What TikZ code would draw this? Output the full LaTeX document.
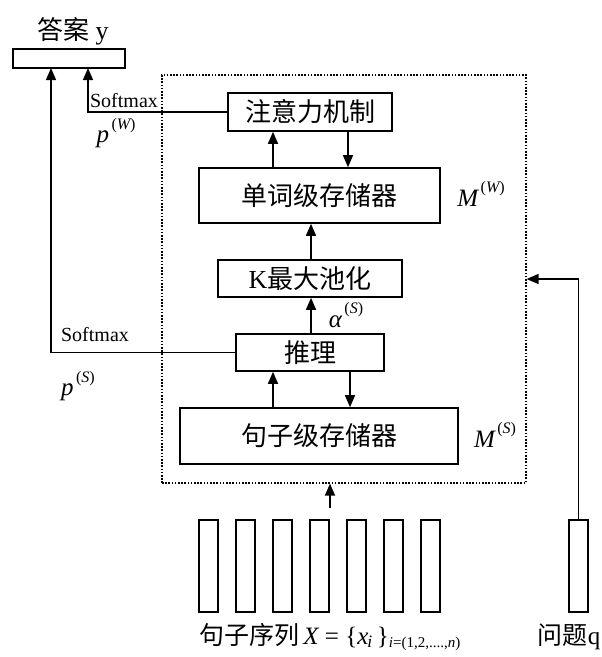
\documentclass[tikz,border=0pt]{standalone}
\usepackage{fontspec}
\setmainfont{Liberation Serif}
\newfontfamily\cjk{Noto Sans CJK SC}
\usetikzlibrary{arrows.meta}
\begin{document}
\begin{tikzpicture}[x=1pt,y=-1pt,
  box/.style={draw,line width=1.6pt,inner sep=0pt,fill=white},
  bar/.style={draw,line width=1.4pt,minimum width=19pt,minimum height=92pt,inner sep=0pt},
  conn/.style={line width=1.3pt},
  arr/.style={conn,-{Triangle[length=12pt,width=10pt]}},
  cn/.style={font=\cjk\fontsize{26}{26}\selectfont},
  lbl/.style={inner sep=0pt,font=\fontsize{25}{25}\selectfont},
  sm/.style={inner sep=0pt,font=\fontsize{20}{20}\selectfont}]
\useasboundingbox (0,0) rectangle (602,657);
\newcommand{\supx}[1]{\kern2.5pt\raisebox{1.15ex}{\fontsize{16}{16}\selectfont(\itshape #1\upshape)}}
% dotted frame
\node[draw,line width=1.2pt,dash pattern=on 1.6pt off 1.6pt,minimum width=364pt,minimum height=408pt,inner sep=0pt] (dbox) at (344,279) {};
% answer
\node[box,minimum width=112pt,minimum height=19pt] (ans) at (69,58.5) {};
\node[inner sep=0pt,font=\fontsize{26}{26}\selectfont] (anslbl) at (73,31) {{\cjk 答案} y};
% boxes
\node[box,cn,minimum width=164pt,minimum height=38pt] (att) at (310,112) {注意力机制};
\node[box,cn,minimum width=241pt,minimum height=55pt] (word) at (319.5,195.5) {单词级存储器};
\node[box,minimum width=184pt,minimum height=37pt,font=\fontsize{26}{26}\selectfont] (kmax) at (310,278.5) {K{\cjk 最大池化}};
\node[box,cn,minimum width=148pt,minimum height=37pt] (infer) at (310,352.5) {推理};
\node[box,cn,minimum width=278pt,minimum height=56pt] (sent) at (319,436) {句子级存储器};
% bars
\foreach \i in {0,...,6}{
  \node[bar] (b\i) at (208.5+37*\i,566) {};
}
\node[bar] (qbar) at (578.5,566) {};
% coordinates
\coordinate (a1) at (51,68);
\coordinate (a2) at (88,68);
\coordinate (xL) at (273,0);
\coordinate (xC) at (311,0);
\coordinate (xR) at (348,0);
\coordinate (xS) at (350,0);
\coordinate (src) at (330,508);
% connectors
\draw[arr] (att.west) -| (a2);
\draw[arr] (infer.west) -| (a1);
\draw[arr] (xL |- word.north) -- (xL |- att.south);
\draw[arr] (xR |- att.south) -- (xR |- word.north);
\draw[arr] (xC |- kmax.north) -- (xC |- word.south);
\draw[arr] (xC |- infer.north) -- (xC |- kmax.south);
\draw[arr] (xL |- sent.north) -- (xL |- infer.south);
\draw[arr] (xS |- infer.south) -- (xS |- sent.north);
\draw[arr] (src) -- (src |- dbox.south);
\draw[arr] (qbar.north) |- (dbox.east);
% labels
\node[sm] (sm1) at (124,101) {Softmax};
\node[sm] (sm2) at (95,335) {Softmax};
\node[lbl] (pW) at (116,133) {\itshape p\upshape\supx{W}};
\node[lbl] (pS) at (78,386) {\itshape p\upshape\supx{S}};
\node[lbl] (MW) at (481,194) {\itshape M\upshape\supx{W}};
\node[lbl] (MS) at (495,435) {\itshape M\upshape\supx{S}};
\node[lbl] (al) at (346,315) {\itshape α\upshape\supx{S}};
\node[lbl,font=\fontsize{25}{25}\selectfont] (xlbl) at (330,637) {{\cjk 句子序列}\,\itshape X\upshape\ = \{\itshape x\textsubscript{\kern-1pt i}\upshape\,\}\textsubscript{\fontsize{15}{15}\selectfont\itshape i\upshape=(1,2,....,\itshape n\upshape)}};
\node[lbl] (qlbl) at (569,637) {{\cjk 问题}q};
\end{tikzpicture}
\end{document}
